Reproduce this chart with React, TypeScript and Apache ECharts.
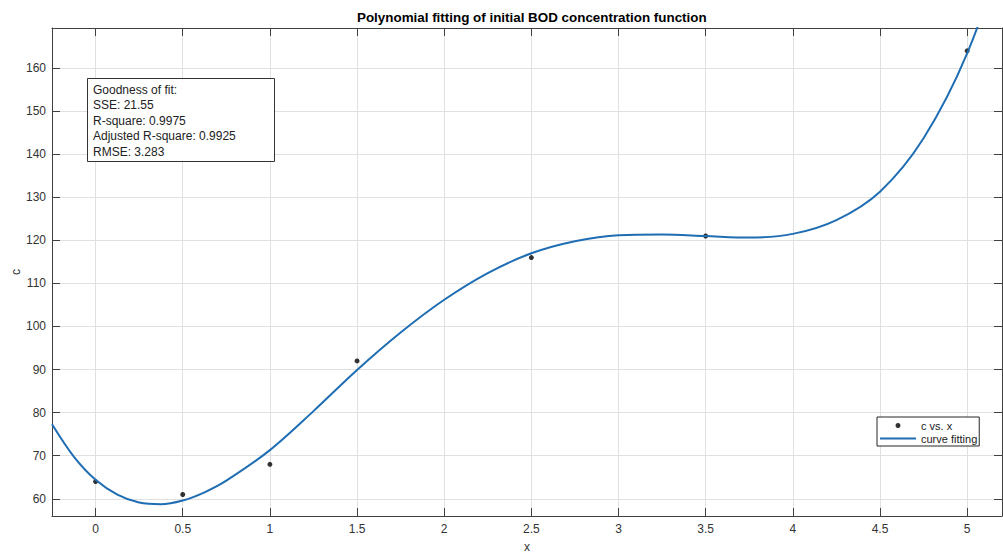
import React, { useEffect, useRef } from 'react';
import * as echarts from 'echarts';

const chartTitle = 'Polynomial fitting of initial BOD concentration function';
const xName = 'x';
const yName = 'c';
const seriesPointsName = 'c vs. x';
const seriesFitName = 'curve fitting';

const dataX = [0, 0.5, 1, 1.5, 2.5, 3.5, 5];
const dataC = [64, 61, 68, 92, 116, 121, 164];

const fitX = [-0.25, -0.125, 0, 0.125, 0.25, 0.375, 0.5, 0.625, 0.75, 1, 1.25, 1.5, 1.75, 2, 2.25, 2.5, 2.75, 3, 3.25, 3.5, 3.75, 4, 4.25, 4.5, 4.75, 5, 5.25];
const fitC = [77.3, 69.8, 64.4, 60.96, 59.12, 58.73, 59.6, 61.5, 64.2, 71.3, 80.35, 89.9, 98.6, 106.2, 112.4, 117.0, 119.8, 121.2, 121.35, 121.0, 120.65, 121.5, 124.7, 131.3, 143.7, 163.4, 192.1];

const fitStats = [
  'Goodness of fit:',
  'SSE: 21.55',
  'R-square: 0.9975',
  'Adjusted R-square: 0.9925',
  'RMSE: 3.283',
];

const X_MIN = -0.25;
const X_MAX = 5.2;
const Y_MIN = 56;
const Y_MAX = 169.3;

const FONT = '"Liberation Sans", Arial, Helvetica, sans-serif';
const AXIS_COLOR = '#404040';
const LABEL_COLOR = '#333333';
const GRID_COLOR = '#e0e0e0';
const FIT_COLOR = '#1f6db3';

const isMultiple = (v: number, step: number) => Math.abs(v / step - Math.round(v / step)) < 1e-6;

export default function App() {
  const ref = useRef<HTMLDivElement>(null);

  useEffect(() => {
    if (!ref.current) return;
    const chart = echarts.init(ref.current, undefined, { renderer: 'svg' });

    const baseX = {
      type: 'value' as const,
      min: X_MIN,
      max: X_MAX,
      splitNumber: 11,
    };
    const baseY = {
      type: 'value' as const,
      min: Y_MIN,
      max: Y_MAX,
      splitNumber: 11,
    };

    chart.setOption({
      animation: false,
      backgroundColor: '#ffffff',
      textStyle: { fontFamily: FONT },
      title: {
        text: chartTitle,
        left: 357,
        top: 11,
        padding: 0,
        textStyle: { fontSize: 13.4, fontWeight: 'bold', color: '#000', fontFamily: FONT },
      },
      grid: { left: 52, top: 28, right: 1, bottom: 38, containLabel: false, outerBoundsMode: 'none' },
      legend: {
        orient: 'vertical',
        left: 877,
        top: 417,
        padding: [3, 2, 2, 3],
        itemGap: 2,
        itemWidth: 36,
        itemHeight: 5,
        backgroundColor: '#ffffff',
        borderColor: '#262626',
        borderWidth: 1,
        borderRadius: 0,
        textStyle: { fontSize: 11, color: '#222', fontFamily: FONT },
        data: [
          { name: seriesPointsName, icon: 'circle' },
          { name: seriesFitName, icon: 'path://M0,0 L36,0 L36,2.2 L0,2.2 Z' },
        ],
      },
      xAxis: [
        {
          ...baseX,
          position: 'bottom',
          name: xName,
          nameLocation: 'middle',
          nameGap: 25,
          nameMoveOverlap: false,
          nameTextStyle: { fontSize: 12, color: LABEL_COLOR, fontFamily: FONT },
          axisLine: { show: true, onZero: false, lineStyle: { color: AXIS_COLOR, width: 1 } },
          axisTick: { show: true, inside: true, length: 8, lineStyle: { color: AXIS_COLOR } },
          axisLabel: {
            show: true,
            margin: 7,
            fontSize: 12,
            color: LABEL_COLOR,
            fontFamily: FONT,
            formatter: (v: number) => (isMultiple(v, 0.5) ? String(v) : ''),
          },
          splitLine: { show: true, lineStyle: { color: GRID_COLOR, width: 1 } },
        },
        {
          ...baseX,
          position: 'top',
          axisLine: { show: true, onZero: false, lineStyle: { color: AXIS_COLOR, width: 1 } },
          axisTick: { show: true, inside: true, length: 8, lineStyle: { color: AXIS_COLOR } },
          axisLabel: { show: false },
          splitLine: { show: false },
        },
      ],
      yAxis: [
        {
          ...baseY,
          position: 'left',
          name: yName,
          nameLocation: 'middle',
          nameGap: 30,
          nameMoveOverlap: false,
          nameTextStyle: { fontSize: 12, color: LABEL_COLOR, fontFamily: FONT },
          axisLine: { show: true, onZero: false, lineStyle: { color: AXIS_COLOR, width: 1 } },
          axisTick: { show: true, inside: true, length: 8, lineStyle: { color: AXIS_COLOR } },
          axisLabel: {
            show: true,
            margin: 6,
            fontSize: 12,
            color: LABEL_COLOR,
            fontFamily: FONT,
            formatter: (v: number) => (isMultiple(v, 10) ? String(v) : ''),
          },
          splitLine: { show: true, lineStyle: { color: GRID_COLOR, width: 1 } },
        },
        {
          ...baseY,
          position: 'right',
          axisLine: { show: true, onZero: false, lineStyle: { color: AXIS_COLOR, width: 1 } },
          axisTick: { show: true, inside: true, length: 8, lineStyle: { color: AXIS_COLOR } },
          axisLabel: { show: false },
          splitLine: { show: false },
        },
      ],
      series: [
        {
          name: seriesPointsName,
          type: 'scatter',
          xAxisIndex: 0,
          yAxisIndex: 0,
          symbol: 'circle',
          symbolSize: 5,
          itemStyle: { color: '#000' },
          data: dataX.map((x, i) => [x, dataC[i]]),
        },
        {
          name: seriesFitName,
          type: 'line',
          xAxisIndex: 0,
          yAxisIndex: 0,
          symbol: 'none',
          showSymbol: false,
          smooth: 0.33,
          clip: true,
          lineStyle: { color: FIT_COLOR, width: 2 },
          itemStyle: { color: FIT_COLOR },
          data: fitX.map((x, i) => [x, fitC[i]]),
        },
      ],
      graphic: [
        {
          type: 'rect',
          z: 100,
          shape: { x: 87.5, y: 78.5, width: 187, height: 83 },
          style: { fill: '#ffffff', stroke: '#333333', lineWidth: 1 },
        },
        {
          type: 'text',
          z: 101,
          x: 93,
          y: 82,
          style: {
            text: fitStats.join('\n'),
            font: `12px ${FONT}`,
            fill: '#222222',
            lineHeight: 15.5,
          },
        },
      ],
    });

    return () => {
      chart.dispose();
    };
  }, []);

  return (
    <div
      ref={ref}
      style={{ position: 'fixed', left: 0, top: 0, width: 1003, height: 554, background: '#fff' }}
    />
  );
}
